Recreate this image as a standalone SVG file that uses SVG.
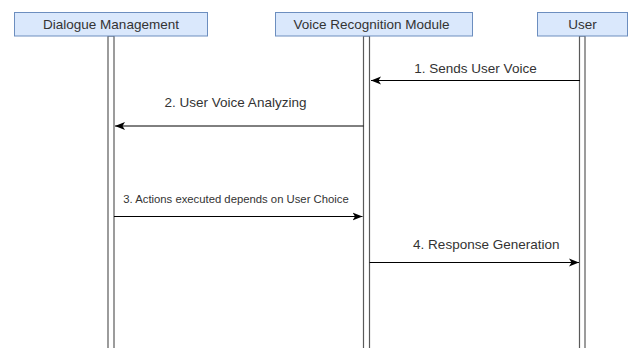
<svg xmlns="http://www.w3.org/2000/svg" width="631" height="348" viewBox="0 0 631 348">
  <style>
    .head { fill: #dae8fc; stroke: #6c8ebf; stroke-width: 1; }
    .life { fill: #ffffff; stroke: #5a5a5a; stroke-width: 1.2; }
    .lbl { font-family: "Liberation Sans", Arial, sans-serif; fill: #333333; text-anchor: middle; }
    .msg { stroke: #000000; stroke-width: 1; fill: none; marker-end: url(#arrow); }
  </style>
  <defs>
    <marker id="arrow" markerUnits="userSpaceOnUse" markerWidth="12" markerHeight="10" refX="10" refY="4.5" orient="auto">
      <path d="M0,0.5 L10,4.5 L0,8.5 L2.5,4.5 Z" fill="#000000"/>
    </marker>
  </defs>
  <rect width="631" height="348" fill="#ffffff"/>

  <!-- lifelines -->
  <g id="dialogue-management">
    <rect class="life" x="108" y="36" width="6" height="320"/>
    <rect class="head" x="14.5" y="12.5" width="193" height="23.5"/>
    <text class="lbl" x="111" y="28.6" font-size="13.5">Dialogue Management</text>
  </g>
  <g id="voice-recognition-module">
    <rect class="life" x="363.5" y="36" width="6" height="320"/>
    <rect class="head" x="275.5" y="12.5" width="197" height="23.5"/>
    <text class="lbl" x="371.5" y="28.6" font-size="13.5">Voice Recognition Module</text>
  </g>
  <g id="user">
    <rect class="life" x="579.5" y="36" width="5.5" height="320"/>
    <rect class="head" x="537.5" y="12.5" width="90" height="23.5"/>
    <text class="lbl" x="582.5" y="28.6" font-size="13.5">User</text>
  </g>

  <!-- messages -->
  <g id="connectors">
    <line class="msg" x1="580" y1="80.5" x2="371" y2="80.5"/>
    <text class="lbl" x="475.5" y="73.3" font-size="13.5">1. Sends User Voice</text>

    <line class="msg" x1="363.5" y1="126" x2="115" y2="126"/>
    <text class="lbl" x="235.5" y="107.3" font-size="13.5">2. User Voice Analyzing</text>

    <line class="msg" x1="114" y1="216.5" x2="362.5" y2="216.5"/>
    <text class="lbl" x="236" y="203.3" font-size="11.3">3. Actions executed depends on User Choice</text>

    <line class="msg" x1="369.5" y1="262.5" x2="579" y2="262.5"/>
    <text class="lbl" x="486.3" y="249.3" font-size="13.5">4. Response Generation</text>
  </g>
</svg>
